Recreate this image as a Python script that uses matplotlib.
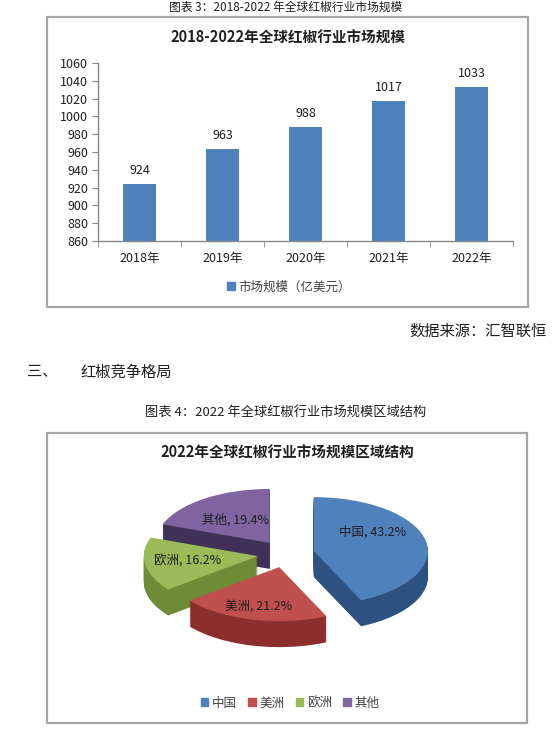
import matplotlib
matplotlib.use("Agg")
import matplotlib.pyplot as plt
from matplotlib.patches import Rectangle, Patch
import numpy as np

plt.rcParams['font.family'] = ['Noto Sans CJK SC', 'DejaVu Sans']

# ---------------- data ----------------
years = ['2018年', '2019年', '2020年', '2021年', '2022年']
market_size = [924, 963, 988, 1017, 1033]
bar_series = '市场规模（亿美元）'
y_ticks = [860, 880, 900, 920, 940, 960, 980, 1000, 1020, 1040, 1060]

regions = ['中国', '美洲', '欧洲', '其他']
shares = [43.2, 21.2, 16.2, 19.4]

# ---------------- styles ----------------
W, H = 553, 734
fig = plt.figure(figsize=(W / 100, H / 100), dpi=100)
fx = lambda px: px / W
fy = lambda py: 1 - py / H

BOX_EC = '#A6A6A6'
TXT = '#1F1F1F'
AX_C = '#868686'

# frames
for (x0, y0, x1, y1) in [(47, 17, 528, 307), (47, 433, 527, 723)]:
    fig.patches.append(Rectangle((fx(x0), fy(y1)), (x1 - x0) / W, (y1 - y0) / H,
                                 transform=fig.transFigure, fill=False,
                                 ec=BOX_EC, lw=1.6))

# document texts
fig.text(fx(286), fy(1), '图表 3：2018-2022 年全球红椒行业市场规模', ha='center',
         va='top', fontsize=8.5, color=TXT)
fig.text(fx(547), fy(331), '数据来源：汇智联恒', ha='right', va='center',
         fontsize=11, color=TXT)
fig.text(fx(27), fy(372), '三、', ha='left', va='center', fontsize=11, color=TXT)
fig.text(fx(80), fy(372), '红椒竞争格局', ha='left', va='center', fontsize=11, color=TXT)
fig.text(fx(285.5), fy(413), '图表 4：2022 年全球红椒行业市场规模区域结构', ha='center',
         va='center', fontsize=9.5, color=TXT)

# ---------------- bar chart ----------------
fig.text(fx(288), fy(38), '2018-2022年全球红椒行业市场规模', ha='center', va='center',
         fontsize=10.5, weight='bold', color=TXT)
ax1 = fig.add_axes([fx(98), fy(241), (513 - 98) / W, (241 - 63) / H])
x = np.arange(len(years))
bars = ax1.bar(x, market_size, width=0.4, color='#4F81BD', label=bar_series)
ax1.set_xlim(-0.5, len(years) - 0.5)
ax1.set_ylim(y_ticks[0], y_ticks[-1])
ax1.set_yticks(y_ticks)
ax1.set_xticks(x)
ax1.set_xticklabels(years)
ax1.set_xticks(np.arange(len(years) + 1) - 0.5, minor=True)
for s in ['top', 'right']:
    ax1.spines[s].set_visible(False)
for s in ['left', 'bottom']:
    ax1.spines[s].set_color(AX_C)
    ax1.spines[s].set_linewidth(1.0)
ax1.tick_params(axis='y', direction='out', length=4, color=AX_C, labelsize=9,
                labelcolor=TXT, pad=3)
ax1.tick_params(axis='x', which='major', length=0, labelsize=9, labelcolor=TXT, pad=8)
ax1.tick_params(axis='x', which='minor', length=4, color=AX_C, direction='out')
for xi, v in zip(x, market_size):
    ax1.annotate(f'{v}', (xi, v), xytext=(0, 10), textcoords='offset points',
                 ha='center', va='center', fontsize=9, color=TXT)
fig.legend(handles=[Patch(color='#4F81BD')], labels=[bar_series], loc='center',
           bbox_to_anchor=(fx(289), fy(287)), frameon=False, fontsize=9,
           handlelength=0.6, handleheight=0.6, handletextpad=0.3,
           labelcolor='#404040')

# ---------------- pie chart ----------------
fig.text(fx(287), fy(453), '2022年全球红椒行业市场规模区域结构', ha='center', va='center',
         fontsize=10.5, weight='bold', color=TXT)

top_colors = ['#4F81BD', '#C0504D', '#9BBB59', '#8064A2']
side_colors = ['#2D5180', '#8C2F2C', '#6E8B35', '#3F3158']
explode_e = 0.25
rx, ry = 114.0, 54.0          # pixels per data unit
cxp, cyp = 286.0, 554.0       # pie centre in pixels
depth = 26.0 / ry
ax2 = fig.add_axes([fx(100), fy(680), 380 / W, 200 / H])

nlayer = 30
for k in range(nlayer):
    cy = -depth + depth * k / nlayer
    ax2.pie(shares, explode=[explode_e] * len(shares), startangle=90,
            counterclock=False, colors=side_colors, center=(0, cy), radius=1,
            frame=True, wedgeprops=dict(linewidth=0))
wedges, _ = ax2.pie(shares, explode=[explode_e] * len(shares), startangle=90,
                    counterclock=False, colors=top_colors, center=(0, 0), radius=1,
                    frame=True, wedgeprops=dict(linewidth=0))

ax2.set_aspect('auto')
ax2.set_xlim((100 - cxp) / rx, (480 - cxp) / rx)
ax2.set_ylim((cyp - 680) / ry, (cyp - 480) / ry)
ax2.axis('off')

label_r = [0.62, 0.765, 0.62, 0.52]
label_da = [22, 0, 0, 0]
total = sum(shares)
cum = 0.0
for i, (name, s) in enumerate(zip(regions, shares)):
    mid = np.deg2rad(90 - 360 * (cum + s / 2) / total)
    cum += s
    ex, ey = explode_e * np.cos(mid), explode_e * np.sin(mid)
    a = mid + np.deg2rad(label_da[i])
    lx, ly = ex + label_r[i] * np.cos(a), ey + label_r[i] * np.sin(a)
    ax2.text(lx, ly, f'{name}, {s:.1f}%', ha='center', va='center',
             fontsize=9, color=TXT)

fig.legend(handles=[Patch(color=c) for c in top_colors], labels=regions,
           loc='center', bbox_to_anchor=(fx(290), fy(703)), ncol=4, frameon=False,
           fontsize=9, handlelength=0.6, handleheight=0.6, handletextpad=0.3,
           columnspacing=0.9, labelcolor='#404040')

fig.savefig('out.png', dpi=100)
